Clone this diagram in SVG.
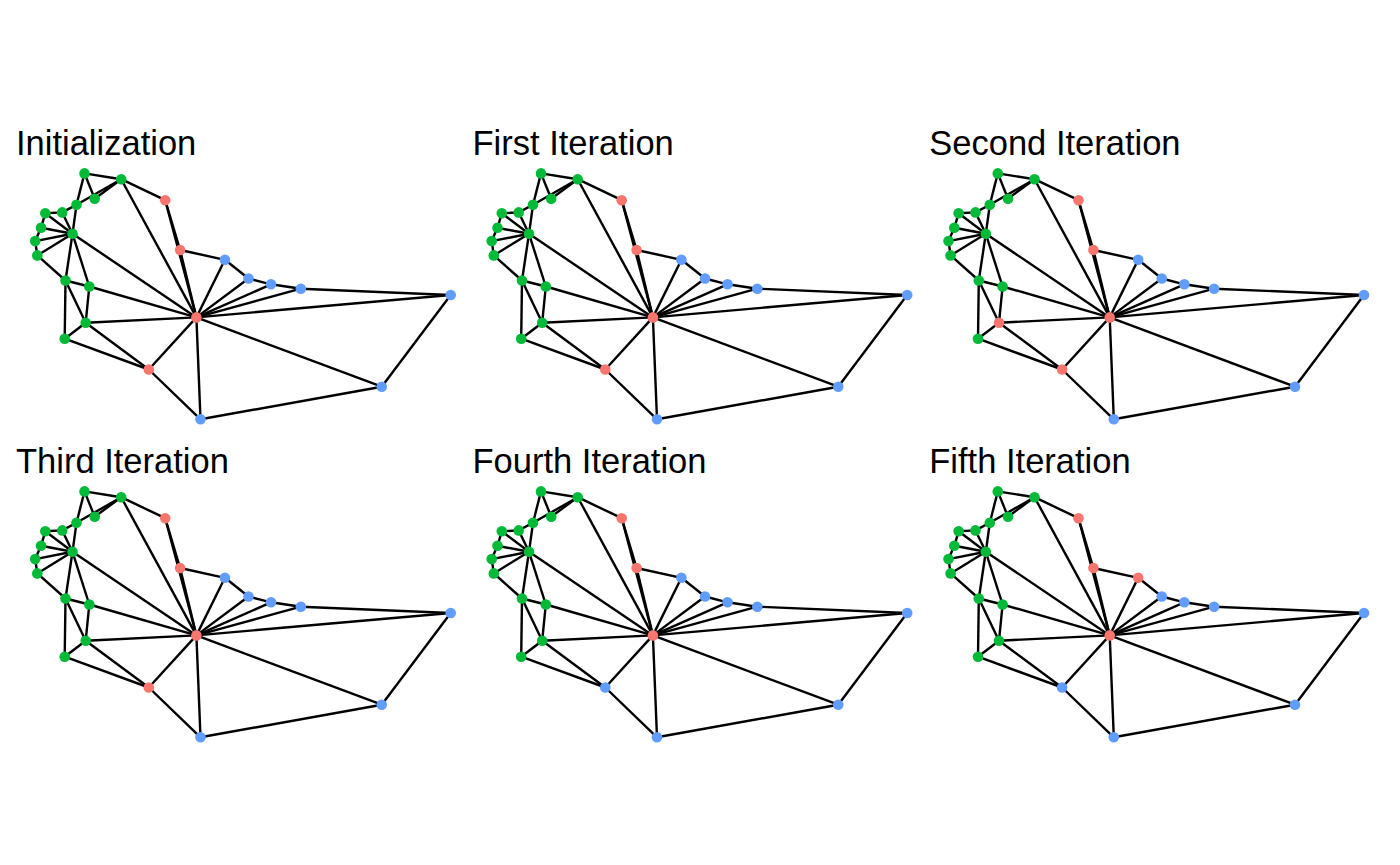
<svg xmlns="http://www.w3.org/2000/svg" xmlns:xlink="http://www.w3.org/1999/xlink" width="1400" height="865" viewBox="0 0 1400 865">
<style>
.title{font-family:"Liberation Sans",Arial,Helvetica,sans-serif;font-size:34.5px;fill:#000}
.e line{stroke:#000;stroke-width:2.4;stroke-linecap:butt}
.g{fill:#00BA38}
.r{fill:#F8766D}
.b{fill:#619CFF}
circle{r:5.3px}
</style>
<defs>
<g id="edges" class="e">
<line x1="84.5" y1="173.4" x2="121.2" y2="179.2"/>
<line x1="84.5" y1="173.4" x2="94.7" y2="198.7"/>
<line x1="84.5" y1="173.4" x2="76.5" y2="204.8"/>
<line x1="94.7" y1="198.7" x2="121.2" y2="179.2"/>
<line x1="76.5" y1="204.8" x2="121.2" y2="179.2"/>
<line x1="76.5" y1="204.8" x2="62.2" y2="212.4"/>
<line x1="62.2" y1="212.4" x2="45.3" y2="213.3"/>
<line x1="45.3" y1="213.3" x2="72.5" y2="233.8"/>
<line x1="62.2" y1="212.4" x2="72.5" y2="233.8"/>
<line x1="76.5" y1="204.8" x2="72.5" y2="233.8"/>
<line x1="41" y1="227.8" x2="72.5" y2="233.8"/>
<line x1="35.2" y1="241.1" x2="72.5" y2="233.8"/>
<line x1="37.3" y1="255.4" x2="72.5" y2="233.8"/>
<line x1="45.3" y1="213.3" x2="41" y2="227.8"/>
<line x1="41" y1="227.8" x2="35.2" y2="241.1"/>
<line x1="35.2" y1="241.1" x2="37.3" y2="255.4"/>
<line x1="37.3" y1="255.4" x2="65.5" y2="280.5"/>
<line x1="72.5" y1="233.8" x2="65.5" y2="280.5"/>
<line x1="72.5" y1="233.8" x2="89.3" y2="286.5"/>
<line x1="65.5" y1="280.5" x2="89.3" y2="286.5"/>
<line x1="65.5" y1="280.5" x2="64.7" y2="338.7"/>
<line x1="65.5" y1="280.5" x2="85.7" y2="322.7"/>
<line x1="89.3" y1="286.5" x2="85.7" y2="322.7"/>
<line x1="85.7" y1="322.7" x2="64.7" y2="338.7"/>
<line x1="64.7" y1="338.7" x2="148.8" y2="369.5"/>
<line x1="85.7" y1="322.7" x2="148.8" y2="369.5"/>
<line x1="72.5" y1="233.8" x2="196.4" y2="317.4"/>
<line x1="89.3" y1="286.5" x2="196.4" y2="317.4"/>
<line x1="85.7" y1="322.7" x2="196.4" y2="317.4"/>
<line x1="121.2" y1="179.2" x2="196.4" y2="317.4"/>
<line x1="121.2" y1="179.2" x2="165.2" y2="200.2"/>
<line x1="165.2" y1="200.2" x2="180.1" y2="250"/>
<line x1="165.2" y1="200.2" x2="196.4" y2="317.4"/>
<line x1="180.1" y1="250" x2="196.4" y2="317.4"/>
<line x1="180.1" y1="250" x2="224.9" y2="259.8"/>
<line x1="224.9" y1="259.8" x2="196.4" y2="317.4"/>
<line x1="224.9" y1="259.8" x2="248.5" y2="278.5"/>
<line x1="248.5" y1="278.5" x2="196.4" y2="317.4"/>
<line x1="248.5" y1="278.5" x2="271" y2="284.3"/>
<line x1="271" y1="284.3" x2="196.4" y2="317.4"/>
<line x1="271" y1="284.3" x2="300.8" y2="288.7"/>
<line x1="300.8" y1="288.7" x2="196.4" y2="317.4"/>
<line x1="300.8" y1="288.7" x2="450.7" y2="295"/>
<line x1="450.7" y1="295" x2="196.4" y2="317.4"/>
<line x1="450.7" y1="295" x2="381.7" y2="386.7"/>
<line x1="381.7" y1="386.7" x2="196.4" y2="317.4"/>
<line x1="381.7" y1="386.7" x2="200.5" y2="419.3"/>
<line x1="200.5" y1="419.3" x2="196.4" y2="317.4"/>
<line x1="148.8" y1="369.5" x2="200.5" y2="419.3"/>
<line x1="148.8" y1="369.5" x2="196.4" y2="317.4"/>
</g>
</defs>
<rect width="1400" height="865" fill="#fff"/>

<!-- Panel 1 -->
<g id="panel-initialization">
<text class="title" x="16" y="154.5">Initialization</text>
<g id="p1-connectors"><use xlink:href="#edges" href="#edges"/></g>
<g id="p1-A"><circle class="g" cx="84.5" cy="173.4" r="5.3"/></g>
<g id="p1-B"><circle class="g" cx="121.2" cy="179.2" r="5.3"/></g>
<g id="p1-C"><circle class="g" cx="94.7" cy="198.7" r="5.3"/></g>
<g id="p1-D"><circle class="g" cx="76.5" cy="204.8" r="5.3"/></g>
<g id="p1-E"><circle class="g" cx="62.2" cy="212.4" r="5.3"/></g>
<g id="p1-F"><circle class="g" cx="45.3" cy="213.3" r="5.3"/></g>
<g id="p1-G"><circle class="g" cx="41" cy="227.8" r="5.3"/></g>
<g id="p1-H"><circle class="g" cx="72.5" cy="233.8" r="5.3"/></g>
<g id="p1-I"><circle class="g" cx="35.2" cy="241.1" r="5.3"/></g>
<g id="p1-J"><circle class="g" cx="37.3" cy="255.4" r="5.3"/></g>
<g id="p1-K"><circle class="g" cx="65.5" cy="280.5" r="5.3"/></g>
<g id="p1-L"><circle class="g" cx="89.3" cy="286.5" r="5.3"/></g>
<g id="p1-M"><circle class="g" cx="85.7" cy="322.7" r="5.3"/></g>
<g id="p1-N"><circle class="g" cx="64.7" cy="338.7" r="5.3"/></g>
<g id="p1-R1"><circle class="r" cx="165.2" cy="200.2" r="5.3"/></g>
<g id="p1-R2"><circle class="r" cx="180.1" cy="250" r="5.3"/></g>
<g id="p1-HUB"><circle class="r" cx="196.4" cy="317.4" r="5.3"/></g>
<g id="p1-R3"><circle class="r" cx="148.8" cy="369.5" r="5.3"/></g>
<g id="p1-B1"><circle class="b" cx="224.9" cy="259.8" r="5.3"/></g>
<g id="p1-B2"><circle class="b" cx="248.5" cy="278.5" r="5.3"/></g>
<g id="p1-B3"><circle class="b" cx="271" cy="284.3" r="5.3"/></g>
<g id="p1-B4"><circle class="b" cx="300.8" cy="288.7" r="5.3"/></g>
<g id="p1-B5"><circle class="b" cx="450.7" cy="295" r="5.3"/></g>
<g id="p1-B6"><circle class="b" cx="381.7" cy="386.7" r="5.3"/></g>
<g id="p1-B7"><circle class="b" cx="200.5" cy="419.3" r="5.3"/></g>
</g>

<!-- Panel 2 -->
<g id="panel-first" transform="translate(456.5,0)">
<text class="title" x="16" y="154.5">First Iteration</text>
<g id="p2-connectors"><use xlink:href="#edges" href="#edges"/></g>
<g id="p2-A"><circle class="g" cx="84.5" cy="173.4" r="5.3"/></g>
<g id="p2-B"><circle class="g" cx="121.2" cy="179.2" r="5.3"/></g>
<g id="p2-C"><circle class="g" cx="94.7" cy="198.7" r="5.3"/></g>
<g id="p2-D"><circle class="g" cx="76.5" cy="204.8" r="5.3"/></g>
<g id="p2-E"><circle class="g" cx="62.2" cy="212.4" r="5.3"/></g>
<g id="p2-F"><circle class="g" cx="45.3" cy="213.3" r="5.3"/></g>
<g id="p2-G"><circle class="g" cx="41" cy="227.8" r="5.3"/></g>
<g id="p2-H"><circle class="g" cx="72.5" cy="233.8" r="5.3"/></g>
<g id="p2-I"><circle class="g" cx="35.2" cy="241.1" r="5.3"/></g>
<g id="p2-J"><circle class="g" cx="37.3" cy="255.4" r="5.3"/></g>
<g id="p2-K"><circle class="g" cx="65.5" cy="280.5" r="5.3"/></g>
<g id="p2-L"><circle class="g" cx="89.3" cy="286.5" r="5.3"/></g>
<g id="p2-M"><circle class="g" cx="85.7" cy="322.7" r="5.3"/></g>
<g id="p2-N"><circle class="g" cx="64.7" cy="338.7" r="5.3"/></g>
<g id="p2-R1"><circle class="r" cx="165.2" cy="200.2" r="5.3"/></g>
<g id="p2-R2"><circle class="r" cx="180.1" cy="250" r="5.3"/></g>
<g id="p2-HUB"><circle class="r" cx="196.4" cy="317.4" r="5.3"/></g>
<g id="p2-R3"><circle class="r" cx="148.8" cy="369.5" r="5.3"/></g>
<g id="p2-B1"><circle class="b" cx="224.9" cy="259.8" r="5.3"/></g>
<g id="p2-B2"><circle class="b" cx="248.5" cy="278.5" r="5.3"/></g>
<g id="p2-B3"><circle class="b" cx="271" cy="284.3" r="5.3"/></g>
<g id="p2-B4"><circle class="b" cx="300.8" cy="288.7" r="5.3"/></g>
<g id="p2-B5"><circle class="b" cx="450.7" cy="295" r="5.3"/></g>
<g id="p2-B6"><circle class="b" cx="381.7" cy="386.7" r="5.3"/></g>
<g id="p2-B7"><circle class="b" cx="200.5" cy="419.3" r="5.3"/></g>
</g>

<!-- Panel 3 -->
<g id="panel-second" transform="translate(913.3,0)">
<text class="title" x="16" y="154.5">Second Iteration</text>
<g id="p3-connectors"><use xlink:href="#edges" href="#edges"/></g>
<g id="p3-A"><circle class="g" cx="84.5" cy="173.4" r="5.3"/></g>
<g id="p3-B"><circle class="g" cx="121.2" cy="179.2" r="5.3"/></g>
<g id="p3-C"><circle class="g" cx="94.7" cy="198.7" r="5.3"/></g>
<g id="p3-D"><circle class="g" cx="76.5" cy="204.8" r="5.3"/></g>
<g id="p3-E"><circle class="g" cx="62.2" cy="212.4" r="5.3"/></g>
<g id="p3-F"><circle class="g" cx="45.3" cy="213.3" r="5.3"/></g>
<g id="p3-G"><circle class="g" cx="41" cy="227.8" r="5.3"/></g>
<g id="p3-H"><circle class="g" cx="72.5" cy="233.8" r="5.3"/></g>
<g id="p3-I"><circle class="g" cx="35.2" cy="241.1" r="5.3"/></g>
<g id="p3-J"><circle class="g" cx="37.3" cy="255.4" r="5.3"/></g>
<g id="p3-K"><circle class="g" cx="65.5" cy="280.5" r="5.3"/></g>
<g id="p3-L"><circle class="g" cx="89.3" cy="286.5" r="5.3"/></g>
<g id="p3-M"><circle class="r" cx="85.7" cy="322.7" r="5.3"/></g>
<g id="p3-N"><circle class="g" cx="64.7" cy="338.7" r="5.3"/></g>
<g id="p3-R1"><circle class="r" cx="165.2" cy="200.2" r="5.3"/></g>
<g id="p3-R2"><circle class="r" cx="180.1" cy="250" r="5.3"/></g>
<g id="p3-HUB"><circle class="r" cx="196.4" cy="317.4" r="5.3"/></g>
<g id="p3-R3"><circle class="r" cx="148.8" cy="369.5" r="5.3"/></g>
<g id="p3-B1"><circle class="b" cx="224.9" cy="259.8" r="5.3"/></g>
<g id="p3-B2"><circle class="b" cx="248.5" cy="278.5" r="5.3"/></g>
<g id="p3-B3"><circle class="b" cx="271" cy="284.3" r="5.3"/></g>
<g id="p3-B4"><circle class="b" cx="300.8" cy="288.7" r="5.3"/></g>
<g id="p3-B5"><circle class="b" cx="450.7" cy="295" r="5.3"/></g>
<g id="p3-B6"><circle class="b" cx="381.7" cy="386.7" r="5.3"/></g>
<g id="p3-B7"><circle class="b" cx="200.5" cy="419.3" r="5.3"/></g>
</g>

<!-- Panel 4 -->
<g id="panel-third" transform="translate(0,318)">
<text class="title" x="16" y="154.5">Third Iteration</text>
<g id="p4-connectors"><use xlink:href="#edges" href="#edges"/></g>
<g id="p4-A"><circle class="g" cx="84.5" cy="173.4" r="5.3"/></g>
<g id="p4-B"><circle class="g" cx="121.2" cy="179.2" r="5.3"/></g>
<g id="p4-C"><circle class="g" cx="94.7" cy="198.7" r="5.3"/></g>
<g id="p4-D"><circle class="g" cx="76.5" cy="204.8" r="5.3"/></g>
<g id="p4-E"><circle class="g" cx="62.2" cy="212.4" r="5.3"/></g>
<g id="p4-F"><circle class="g" cx="45.3" cy="213.3" r="5.3"/></g>
<g id="p4-G"><circle class="g" cx="41" cy="227.8" r="5.3"/></g>
<g id="p4-H"><circle class="g" cx="72.5" cy="233.8" r="5.3"/></g>
<g id="p4-I"><circle class="g" cx="35.2" cy="241.1" r="5.3"/></g>
<g id="p4-J"><circle class="g" cx="37.3" cy="255.4" r="5.3"/></g>
<g id="p4-K"><circle class="g" cx="65.5" cy="280.5" r="5.3"/></g>
<g id="p4-L"><circle class="g" cx="89.3" cy="286.5" r="5.3"/></g>
<g id="p4-M"><circle class="g" cx="85.7" cy="322.7" r="5.3"/></g>
<g id="p4-N"><circle class="g" cx="64.7" cy="338.7" r="5.3"/></g>
<g id="p4-R1"><circle class="r" cx="165.2" cy="200.2" r="5.3"/></g>
<g id="p4-R2"><circle class="r" cx="180.1" cy="250" r="5.3"/></g>
<g id="p4-HUB"><circle class="r" cx="196.4" cy="317.4" r="5.3"/></g>
<g id="p4-R3"><circle class="r" cx="148.8" cy="369.5" r="5.3"/></g>
<g id="p4-B1"><circle class="b" cx="224.9" cy="259.8" r="5.3"/></g>
<g id="p4-B2"><circle class="b" cx="248.5" cy="278.5" r="5.3"/></g>
<g id="p4-B3"><circle class="b" cx="271" cy="284.3" r="5.3"/></g>
<g id="p4-B4"><circle class="b" cx="300.8" cy="288.7" r="5.3"/></g>
<g id="p4-B5"><circle class="b" cx="450.7" cy="295" r="5.3"/></g>
<g id="p4-B6"><circle class="b" cx="381.7" cy="386.7" r="5.3"/></g>
<g id="p4-B7"><circle class="b" cx="200.5" cy="419.3" r="5.3"/></g>
</g>

<!-- Panel 5 -->
<g id="panel-fourth" transform="translate(456.5,318)">
<text class="title" x="16" y="154.5">Fourth Iteration</text>
<g id="p5-connectors"><use xlink:href="#edges" href="#edges"/></g>
<g id="p5-A"><circle class="g" cx="84.5" cy="173.4" r="5.3"/></g>
<g id="p5-B"><circle class="g" cx="121.2" cy="179.2" r="5.3"/></g>
<g id="p5-C"><circle class="g" cx="94.7" cy="198.7" r="5.3"/></g>
<g id="p5-D"><circle class="g" cx="76.5" cy="204.8" r="5.3"/></g>
<g id="p5-E"><circle class="g" cx="62.2" cy="212.4" r="5.3"/></g>
<g id="p5-F"><circle class="g" cx="45.3" cy="213.3" r="5.3"/></g>
<g id="p5-G"><circle class="g" cx="41" cy="227.8" r="5.3"/></g>
<g id="p5-H"><circle class="g" cx="72.5" cy="233.8" r="5.3"/></g>
<g id="p5-I"><circle class="g" cx="35.2" cy="241.1" r="5.3"/></g>
<g id="p5-J"><circle class="g" cx="37.3" cy="255.4" r="5.3"/></g>
<g id="p5-K"><circle class="g" cx="65.5" cy="280.5" r="5.3"/></g>
<g id="p5-L"><circle class="g" cx="89.3" cy="286.5" r="5.3"/></g>
<g id="p5-M"><circle class="g" cx="85.7" cy="322.7" r="5.3"/></g>
<g id="p5-N"><circle class="g" cx="64.7" cy="338.7" r="5.3"/></g>
<g id="p5-R1"><circle class="r" cx="165.2" cy="200.2" r="5.3"/></g>
<g id="p5-R2"><circle class="r" cx="180.1" cy="250" r="5.3"/></g>
<g id="p5-HUB"><circle class="r" cx="196.4" cy="317.4" r="5.3"/></g>
<g id="p5-R3"><circle class="b" cx="148.8" cy="369.5" r="5.3"/></g>
<g id="p5-B1"><circle class="b" cx="224.9" cy="259.8" r="5.3"/></g>
<g id="p5-B2"><circle class="b" cx="248.5" cy="278.5" r="5.3"/></g>
<g id="p5-B3"><circle class="b" cx="271" cy="284.3" r="5.3"/></g>
<g id="p5-B4"><circle class="b" cx="300.8" cy="288.7" r="5.3"/></g>
<g id="p5-B5"><circle class="b" cx="450.7" cy="295" r="5.3"/></g>
<g id="p5-B6"><circle class="b" cx="381.7" cy="386.7" r="5.3"/></g>
<g id="p5-B7"><circle class="b" cx="200.5" cy="419.3" r="5.3"/></g>
</g>

<!-- Panel 6 -->
<g id="panel-fifth" transform="translate(913.3,318)">
<text class="title" x="16" y="154.5">Fifth Iteration</text>
<g id="p6-connectors"><use xlink:href="#edges" href="#edges"/></g>
<g id="p6-A"><circle class="g" cx="84.5" cy="173.4" r="5.3"/></g>
<g id="p6-B"><circle class="g" cx="121.2" cy="179.2" r="5.3"/></g>
<g id="p6-C"><circle class="g" cx="94.7" cy="198.7" r="5.3"/></g>
<g id="p6-D"><circle class="g" cx="76.5" cy="204.8" r="5.3"/></g>
<g id="p6-E"><circle class="g" cx="62.2" cy="212.4" r="5.3"/></g>
<g id="p6-F"><circle class="g" cx="45.3" cy="213.3" r="5.3"/></g>
<g id="p6-G"><circle class="g" cx="41" cy="227.8" r="5.3"/></g>
<g id="p6-H"><circle class="g" cx="72.5" cy="233.8" r="5.3"/></g>
<g id="p6-I"><circle class="g" cx="35.2" cy="241.1" r="5.3"/></g>
<g id="p6-J"><circle class="g" cx="37.3" cy="255.4" r="5.3"/></g>
<g id="p6-K"><circle class="g" cx="65.5" cy="280.5" r="5.3"/></g>
<g id="p6-L"><circle class="g" cx="89.3" cy="286.5" r="5.3"/></g>
<g id="p6-M"><circle class="g" cx="85.7" cy="322.7" r="5.3"/></g>
<g id="p6-N"><circle class="g" cx="64.7" cy="338.7" r="5.3"/></g>
<g id="p6-R1"><circle class="r" cx="165.2" cy="200.2" r="5.3"/></g>
<g id="p6-R2"><circle class="r" cx="180.1" cy="250" r="5.3"/></g>
<g id="p6-HUB"><circle class="r" cx="196.4" cy="317.4" r="5.3"/></g>
<g id="p6-R3"><circle class="b" cx="148.8" cy="369.5" r="5.3"/></g>
<g id="p6-B1"><circle class="r" cx="224.9" cy="259.8" r="5.3"/></g>
<g id="p6-B2"><circle class="b" cx="248.5" cy="278.5" r="5.3"/></g>
<g id="p6-B3"><circle class="b" cx="271" cy="284.3" r="5.3"/></g>
<g id="p6-B4"><circle class="b" cx="300.8" cy="288.7" r="5.3"/></g>
<g id="p6-B5"><circle class="b" cx="450.7" cy="295" r="5.3"/></g>
<g id="p6-B6"><circle class="b" cx="381.7" cy="386.7" r="5.3"/></g>
<g id="p6-B7"><circle class="b" cx="200.5" cy="419.3" r="5.3"/></g>
</g>
</svg>
